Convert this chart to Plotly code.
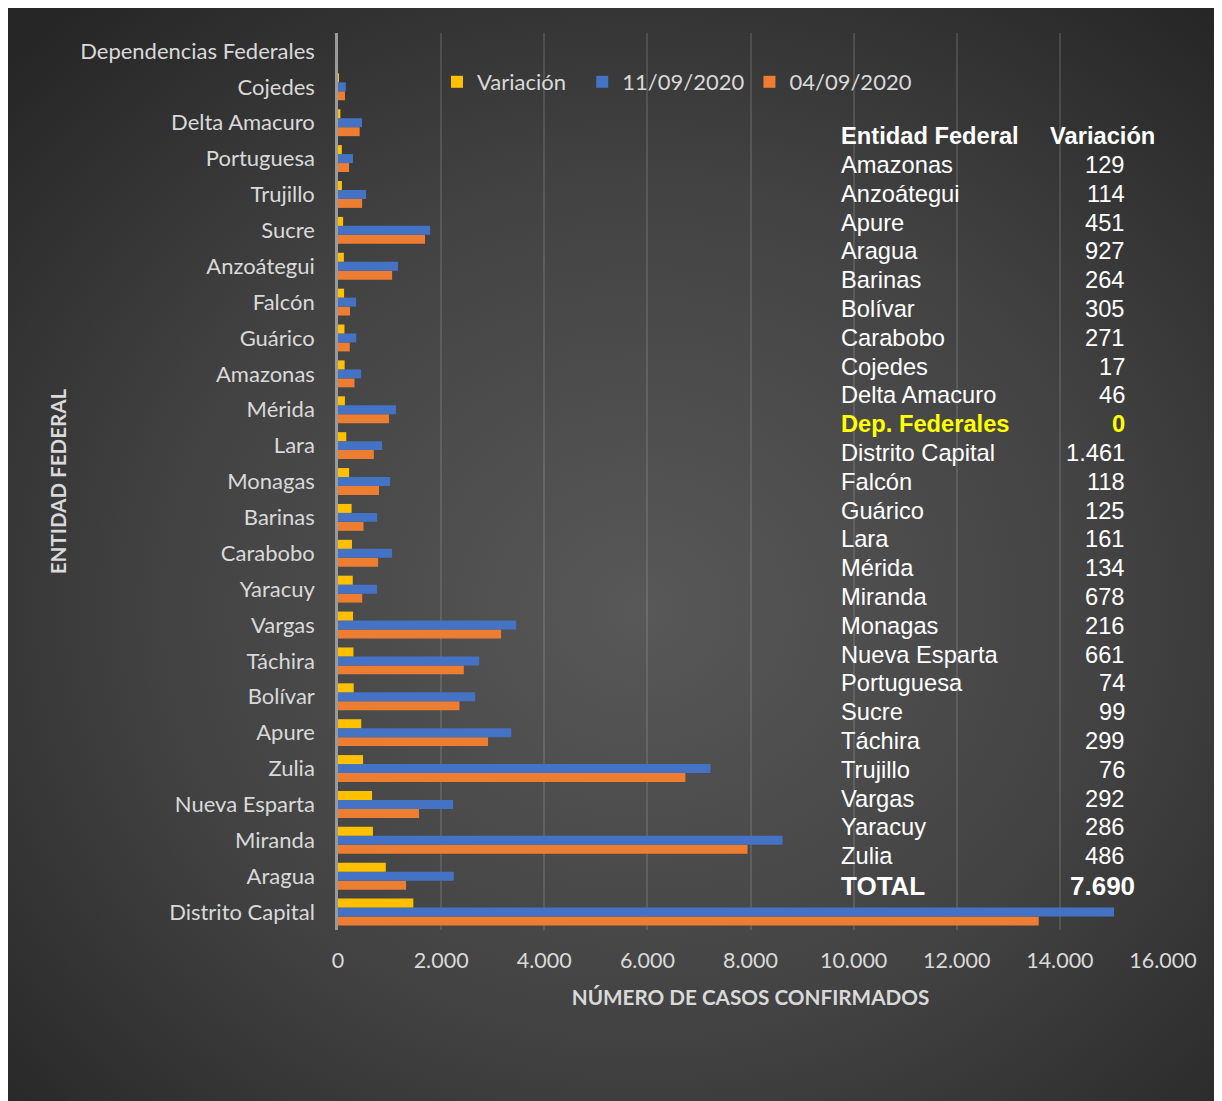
import plotly.graph_objects as go
import base64

# ---------------- data ----------------
categories = ["Distrito Capital", "Aragua", "Miranda", "Nueva Esparta", "Zulia", "Apure",
              "Bolívar", "Táchira", "Vargas", "Yaracuy", "Carabobo", "Barinas", "Monagas",
              "Lara", "Mérida", "Amazonas", "Guárico", "Falcón", "Anzoátegui", "Sucre",
              "Trujillo", "Portuguesa", "Delta Amacuro", "Cojedes", "Dependencias Federales"]
casos_04_09 = [13590, 1320, 7942, 1572, 6737, 2910, 2355, 2440, 3164, 470, 778, 495, 795,
               695, 990, 320, 228, 233, 1050, 1688, 468, 216, 420, 135, 0]
casos_11_09 = [15051, 2247, 8620, 2233, 7223, 3361, 2660, 2739, 3456, 756, 1049, 759, 1011,
               856, 1124, 449, 353, 351, 1164, 1787, 544, 290, 466, 152, 0]
variacion = [1461, 927, 678, 661, 486, 451, 305, 299, 292, 286, 271, 264, 216, 161, 134,
             129, 125, 118, 114, 99, 76, 74, 46, 17, 0]

table_names = ["Amazonas", "Anzoátegui", "Apure", "Aragua", "Barinas", "Bolívar", "Carabobo",
               "Cojedes", "Delta Amacuro", "Dep. Federales", "Distrito Capital", "Falcón",
               "Guárico", "Lara", "Mérida", "Miranda", "Monagas", "Nueva Esparta", "Portuguesa",
               "Sucre", "Táchira", "Trujillo", "Vargas", "Yaracuy", "Zulia"]
table_vars = [129, 114, 451, 927, 264, 305, 271, 17, 46, 0, 1461, 118, 125, 161, 134, 678,
              216, 661, 74, 99, 299, 76, 292, 286, 486]
x_ticks = [0, 2000, 4000, 6000, 8000, 10000, 12000, 14000, 16000]

# ---------------- layout geometry (page pixels; the page body adds an 8px offset) ----------------
OFF = 8
W, H = 1222 - OFF, 1101 - OFF
L, R, T, B = 338, 1163, 33, 930  # plot area in page pixels


def px(x):
    return (x - L) / (R - L)


def py(y):
    return (B - y) / (B - T)


def fmt(v):
    return f"{v:,}".replace(",", ".")


LABEL_FONT = "Lato, Open Sans, sans-serif"
LABEL_COLOR = "#d9d9d9"
TABLE_FONT = "Liberation Sans, Arial, sans-serif"
NB = "\u00a0"

fig = go.Figure()
fig.add_trace(go.Bar(y=categories, x=casos_04_09, orientation="h", name="04/09/2020",
                     marker=dict(color="#ED7D31", line=dict(width=0))))
fig.add_trace(go.Bar(y=categories, x=casos_11_09, orientation="h", name="11/09/2020",
                     marker=dict(color="#4472C4", line=dict(width=0))))
fig.add_trace(go.Bar(y=categories, x=variacion, orientation="h", name="Variación" + NB * 2,
                     marker=dict(color="#FFC000", line=dict(width=0))))

# background gradient
svg = '''<svg xmlns="http://www.w3.org/2000/svg" width="1214" height="1093" viewBox="0 0 1214 1093" preserveAspectRatio="none">
<defs><radialGradient id="g" cx="52%" cy="55%" r="72%">
<stop offset="0" stop-color="#585858"/><stop offset="0.55" stop-color="#424242"/><stop offset="1" stop-color="#262626"/>
</radialGradient></defs><rect width="1214" height="1093" fill="url(#g)"/></svg>'''
src = "data:image/svg+xml;base64," + base64.b64encode(svg.encode()).decode()

annotations = []


def add_text(x, y, text, anchor, size, color="white"):
    annotations.append(dict(xref="paper", yref="paper", x=px(x), y=py(y), text=text,
                            xanchor=anchor, yanchor="middle", showarrow=False,
                            font=dict(family=TABLE_FONT, size=size, color=color)))


add_text(839, 136, "<b>Entidad Federal</b>", "left", 23.7)
add_text(1157, 136, "<b>Variación</b>", "right", 23.7)
for i, (n, v) in enumerate(zip(table_names, table_vars)):
    yy = 165 + i * 28.8
    if n.startswith("Dep."):
        add_text(839, yy, f"<b>{n}</b>", "left", 23.7, "#FFFF00")
        add_text(1127, yy, f"<b>{fmt(v)}</b>", "right", 23.7, "#FFFF00")
    else:
        add_text(839, yy, n, "left", 23.7)
        add_text(1127, yy, fmt(v), "right", 23.7)
add_text(839, 886, "<b>TOTAL</b>", "left", 26)
add_text(1137, 886, f"<b>{fmt(sum(table_vars))}</b>", "right", 26)

fig.update_layout(
    width=W, height=H,
    margin=dict(l=L - OFF, r=W - (R - OFF), t=T - OFF, b=H - (B - OFF), pad=0),
    paper_bgcolor="white",
    plot_bgcolor="rgba(0,0,0,0)",
    separators=",.",
    barmode="group",
    bargap=0.25,
    bargroupgap=0,
    showlegend=True,
    legend=dict(orientation="h", traceorder="reversed", x=px(437), y=py(82),
                xanchor="left", yanchor="middle", bgcolor="rgba(0,0,0,0)",
                font=dict(family=LABEL_FONT, size=22, color=LABEL_COLOR)),
    images=[dict(source=src, xref="paper", yref="paper", x=px(OFF), y=py(OFF),
                 sizex=W / (R - L), sizey=H / (B - T), sizing="stretch",
                 xanchor="left", yanchor="top", layer="below")],
    xaxis=dict(range=[0, 16000], tickvals=x_ticks, tickformat=",", showgrid=True,
               gridcolor="rgba(200,200,200,0.17)", gridwidth=1.5, zeroline=False,
               showline=False, ticks="", ticklabelstandoff=15,
               tickfont=dict(family=LABEL_FONT, size=21.5, color=LABEL_COLOR),
               title=dict(text="<b>NÚMERO DE CASOS CONFIRMADOS</b>", standoff=19,
                          font=dict(family=LABEL_FONT, size=20.7, color=LABEL_COLOR)),
               fixedrange=True),
    yaxis=dict(range=[-0.5, len(categories) - 0.5], showgrid=False, zeroline=False,
               showline=True, linecolor="#9a9a9a", linewidth=2.5, ticks="",
               ticklabelstandoff=16,
               tickfont=dict(family=LABEL_FONT, size=22, color=LABEL_COLOR),
               title=dict(text="<b>ENTIDAD FEDERAL</b>", standoff=8,
                          font=dict(family=LABEL_FONT, size=20.6, color=LABEL_COLOR)),
               fixedrange=True),
    annotations=annotations,
)

fig.write_html("out.html")
